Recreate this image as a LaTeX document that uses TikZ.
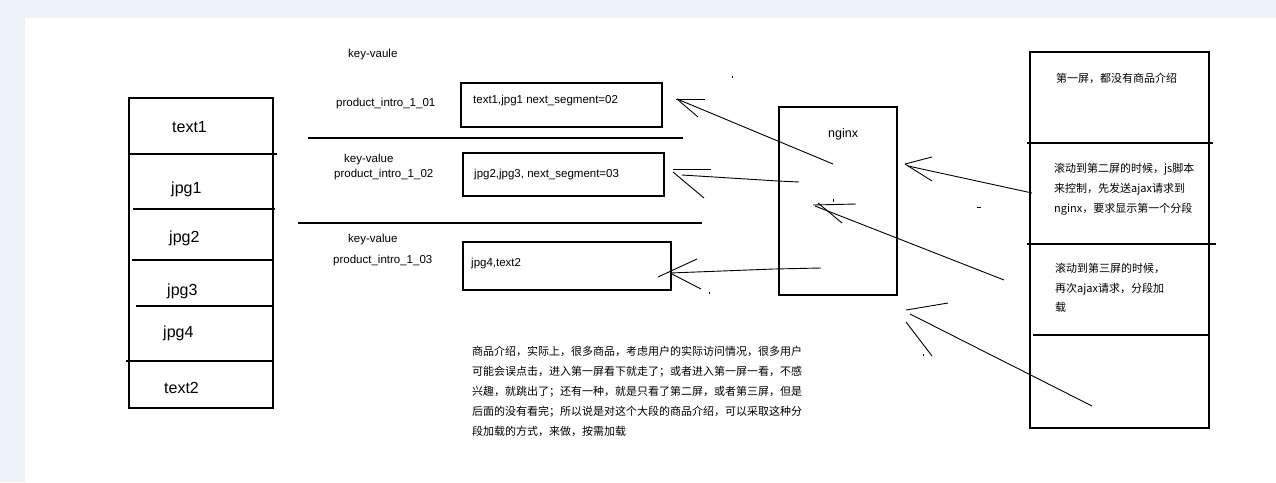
\documentclass[tikz,border=0pt]{standalone}
\usepackage{fontspec}
\setmainfont{Liberation Sans}
\newfontfamily\cjk{Noto Sans CJK SC}
\definecolor{bgc}{RGB}{237,242,249}
\tikzset{
  frame/.style={draw=black, line width=1.1pt, inner sep=0pt},
  hline/.style={draw=black, line width=1.1pt},
  hand/.style={draw=black, line width=0.9pt},
  big/.style={anchor=base west, inner sep=0pt, font=\fontsize{16}{18}\selectfont},
  lbl/.style={anchor=base west, inner sep=0pt, font=\fontsize{11.5}{13}\selectfont},
  ng/.style={anchor=base west, inner sep=0pt, font=\fontsize{12.5}{14}\selectfont},
  cn/.style={anchor=base west, inner sep=0pt, font=\cjk\fontsize{11}{13}\selectfont},
}
\begin{document}
\begin{tikzpicture}[x=1pt,y=-1pt]
\useasboundingbox (0,0) rectangle (1276,482);
\fill[bgc] (0,0) rectangle (1276,482);
\fill[white] (25,18) rectangle (1276,482);

% left column
\node[frame, minimum width=144pt, minimum height=310pt] (col) at (201,253) {};
\draw[hline] (129,154) -- (277,154);
\draw[hline] (133,209) -- (275,209);
\draw[hline] (132,260) -- (273,260);
\draw[hline] (136,306) -- (272,306);
\draw[hline] (126,361) -- (272,361);
\node[big] (t1) at (172,132) {text1};
\node[big] (j1) at (171,193) {jpg1};
\node[big] (j2) at (169,242) {jpg2};
\node[big] (j3) at (167,295) {jpg3};
\node[big] (j4) at (163,337) {jpg4};
\node[big] (t2) at (164,393) {text2};

% middle keys
\node[lbl] (k1) at (348,57) {key-vaule};
\node[lbl] (p1) at (336,106) {product\_intro\_1\_01};
\node[lbl] (k2) at (344,162) {key-value};
\node[lbl] (p2) at (334,177) {product\_intro\_1\_02};
\node[lbl] (k3) at (348,242) {key-value};
\node[lbl] (p3) at (333,263) {product\_intro\_1\_03};
\draw[hline] (308,138) -- (683,138);
\draw[hline] (298,223) -- (702,223);

% value boxes
\node[frame, minimum width=201pt, minimum height=44pt] (b1) at (561.5,105) {};
\node[frame, minimum width=201pt, minimum height=43pt] (b2) at (563.5,174.5) {};
\node[frame, minimum width=208pt, minimum height=48pt] (b3) at (567,266) {};
\node[lbl] (v1) at (473,103) {text1,jpg1 next\_segment=02};
\node[lbl] (v2) at (474,177) {jpg2,jpg3, next\_segment=03};
\node[lbl] (v3) at (471,266) {jpg4,text2};

% nginx
\node[frame, minimum width=118pt, minimum height=188pt] (nx) at (838,201) {};
\node[ng] (nxl) at (828,137) {nginx};

% right column
\node[frame, minimum width=179pt, minimum height=376pt] (scr) at (1119.5,240) {};
\draw[hline] (1027,143) -- (1213,143);
\draw[hline] (1027,244) -- (1216,244);
\draw[hline] (1033,335) -- (1208,335);
\node[cn] (s1) at (1056,82) {第一屏，都没有商品介绍};
\node[cn] (s2a) at (1054,172) {滚动到第二屏的时候，js脚本};
\node[cn] (s2b) at (1054,192) {来控制，先发送ajax请求到};
\node[cn] (s2c) at (1054,212) {nginx，要求显示第一个分段};
\node[cn] (s3a) at (1055,272) {滚动到第三屏的时候，};
\node[cn] (s3b) at (1055,292) {再次ajax请求，分段加};
\node[cn] (s3c) at (1055,311) {载};

% description
\foreach \t [count=\i] in {商品介绍，实际上，很多商品，考虑用户的实际访问情况，很多用户,可能会误点击，进入第一屏看下就走了；或者进入第一屏一看，不感,兴趣，就跳出了；还有一种，就是只看了第二屏，或者第三屏，但是,后面的没有看完；所以说是对这个大段的商品介绍，可以采取这种分,段加载的方式，来做，按需加载}
  \node[cn] (d\i) at (472,{355+20*(\i-1)}) {\t};

% hand-drawn arrows
\coordinate (a1s) at (833,164); \coordinate (a1e) at (677,99);
\draw[hand] (a1s) -- (a1e);
\draw[hand] (676,99) -- (705,99);
\draw[hand] (677,99) -- (698,117);

\coordinate (a2s) at (799,182); \coordinate (a2e) at (682,175);
\draw[hand] (a2s) -- (778,181) -- (a2e);
\draw[hand] (673,169) -- (711,169);
\draw[hand] (673,172) -- (704,198);

\coordinate (a3s) at (821,268); \coordinate (a3e) at (670,273);
\draw[hand] (a3s) -- (774,269) -- (a3e);
\draw[hand] (658,277) -- (697,259);
\draw[hand] (670,273) -- (701,289);

\coordinate (a4s) at (1032,193); \coordinate (a4e) at (908,166);
\draw[hand] (a4s) -- (a4e);
\draw[hand] (905,164) -- (932,157);
\draw[hand] (905,164) -- (932,181);

\coordinate (a5s) at (1004,280); \coordinate (a5e) at (815,206);
\draw[hand] (a5s) -- (a5e);
\draw[hand] (813,205) -- (856,204);
\draw[hand] (818,203) -- (842,223);
\draw[hand] (833,199) -- (833,202);

\coordinate (a6s) at (1092,406); \coordinate (a6e) at (910,314);
\draw[hand] (a6s) -- (a6e);
\draw[hand] (906,310) -- (948,303);
\draw[hand] (906,322) -- (932,356);

% stray marks
\fill (731.5,76) rectangle (733,78);
\fill (708.5,292) rectangle (710,294);
\fill (922.5,354) rectangle (924,356);
\draw[hand] (977,207) -- (981,207);
\end{tikzpicture}
\end{document}
